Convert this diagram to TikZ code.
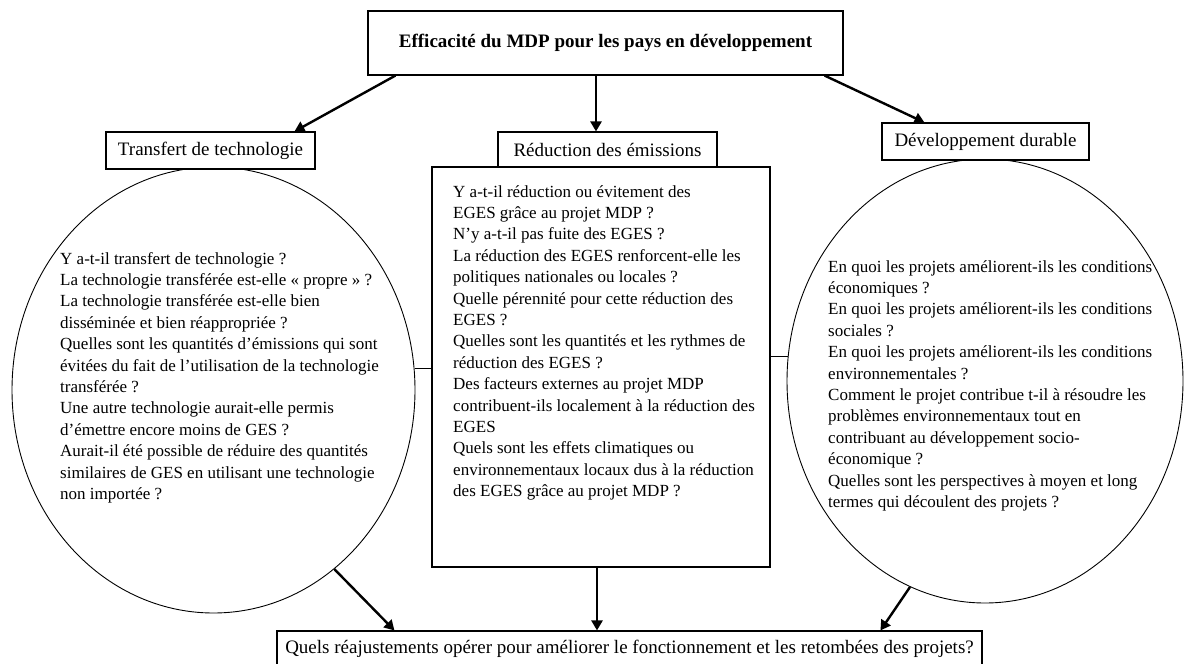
\documentclass[tikz,border=0pt]{standalone}
\usepackage{fontspec}
\setmainfont{Liberation Serif}
\usetikzlibrary{shapes.geometric,arrows.meta,calc}
\begin{document}
\begin{tikzpicture}[x=1pt,y=-1pt,
  box/.style={draw, line width=1.1pt, fill=white, inner sep=0pt, font=\fontsize{19}{22}\selectfont},
  oval/.style={draw, ellipse, line width=0.9pt, inner sep=0pt},
  panel/.style={draw, rectangle, line width=1.1pt, inner sep=0pt},
  body/.style={font=\fontsize{17}{21.4}\selectfont, align=left, inner sep=0pt, anchor=north west},
  arr/.style={line width=2.4pt, -{Triangle[length=10pt,width=11pt]}},
  link/.style={line width=0.9pt}]
\useasboundingbox (0,0) rectangle (1184,664);

\node[oval, minimum width=403pt, minimum height=446pt] (ell1) at (213.5,390) {};
\node[oval, minimum width=396pt, minimum height=444pt] (ell2) at (985,381) {};
\node[panel, minimum width=338pt, minimum height=400pt] (rect) at (601,367) {};

\node[box, minimum width=475pt, minimum height=64pt, font=\fontsize{19}{22}\selectfont\bfseries] (top) at (605.5,43) {Efficacité du MDP pour les pays en développement};
\node[box, minimum width=209pt, minimum height=37pt] (tt) at (210.5,150.5) {Transfert de technologie};
\node[box, minimum width=219pt, minimum height=35pt] (rd) at (607.5,149.5) {Réduction des émissions};
\node[box, minimum width=207pt, minimum height=37pt] (dd) at (985.5,141.5) {Développement durable};
\node[box, minimum width=705pt, minimum height=36pt] (bot) at (629.5,649) {Quels réajustements opérer pour améliorer le fonctionnement et les retombées des projets?};

\node[body] (t1) at (60,252) {Y a-t-il transfert de technologie ?\\
La technologie transférée est-elle « propre » ?\\
La technologie transférée est-elle bien\\
disséminée et bien réappropriée ?\\
Quelles sont les quantités d’émissions qui sont\\
évitées du fait de l’utilisation de la technologie\\
transférée ?\\
Une autre technologie aurait-elle permis\\
d’émettre encore moins de GES ?\\
Aurait-il été possible de réduire des quantités\\
similaires de GES en utilisant une technologie\\
non importée ?};

\node[body] (t2) at (453,185) {Y a-t-il réduction ou évitement des\\
EGES grâce au projet MDP ?\\
N’y a-t-il pas fuite des EGES ?\\
La réduction des EGES renforcent-elle les\\
politiques nationales ou locales ?\\
Quelle pérennité pour cette réduction des\\
EGES ?\\
Quelles sont les quantités et les rythmes de\\
réduction des EGES ?\\
Des facteurs externes au projet MDP\\
contribuent-ils localement à la réduction des\\
EGES\\
Quels sont les effets climatiques ou\\
environnementaux locaux dus à la réduction\\
des EGES grâce au projet MDP ?};

\node[body] (t3) at (828,260) {En quoi les projets améliorent-ils les conditions\\
économiques ?\\
En quoi les projets améliorent-ils les conditions\\
sociales ?\\
En quoi les projets améliorent-ils les conditions\\
environnementales ?\\
Comment le projet contribue t-il à résoudre les\\
problèmes environnementaux tout en\\
contribuant au développement socio-\\
économique ?\\
Quelles sont les perspectives à moyen et long\\
termes qui découlent des projets ?};

\draw[arr] ([xshift=28pt]top.south west) -- ([xshift=189pt]tt.north west);
\draw[arr] ([xshift=-9.5pt]top.south) -- ([xshift=-11.5pt]rd.north);
\draw[arr] ([xshift=-19pt]top.south east) -- ([xshift=43pt]dd.north west);
\draw[link] (ell1.6.5) -- (ell1.6.5 -| rect.west);
\draw[link] (ell2.173.3) -- (ell2.173.3 -| rect.east);
\draw[arr] (ell1.-56.5) -- ([xshift=118pt]bot.north west);
\draw[arr] ([xshift=-4pt]rect.south) -- ([xshift=-4pt]rect.south |- bot.north);
\draw[arr] (ell2.-110.8) -- ([xshift=604pt]bot.north west);
\end{tikzpicture}
\end{document}
